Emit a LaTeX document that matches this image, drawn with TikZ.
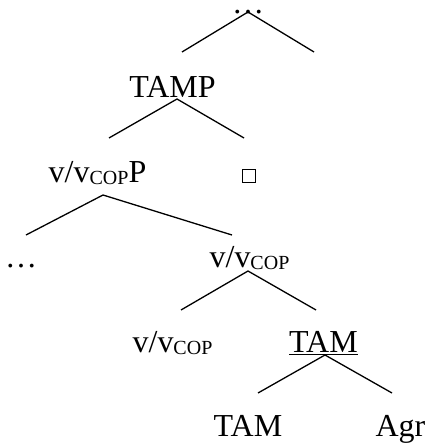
\documentclass[tikz,border=0pt]{standalone}
\usepackage{fontspec}
\setmainfont{Liberation Serif}
\newcommand\vvcop{v/v\raisebox{-1pt}{\fontsize{10}{12}\selectfont COP}}
\begin{document}
\begin{tikzpicture}[x=0.5pt,y=-0.5pt,
  lbl/.style={anchor=base,inner sep=0pt,font=\fontsize{16}{19}\selectfont},
  edge/.style={line width=0.65pt},
  box/.style={draw,line width=0.5pt,minimum size=6.5pt,inner sep=0pt}]
\useasboundingbox (0,0) rectangle (425,443);
% nodes
\node[lbl] (top) at (248,13.5) {…};
\node[lbl] (tamp) at (172.5,98) {TAMP};
\node[lbl] (vvp) at (97.5,183) {\vvcop P};
\node[box] (sq) at (248.5,175.5) {};
\node[lbl] (dots) at (21,267) {…};
\node[lbl] (vvmid) at (249.5,267) {\vvcop};
\node[lbl] (vvlow) at (172.5,352) {\vvcop};
\node[lbl] (tamu) at (323.5,352) {\underline{TAM}};
\node[lbl] (tam) at (248,436) {TAM};
\node[lbl] (agr) at (400.5,436) {Agr};
% branch points
\coordinate (a0) at (248,12);
\coordinate (l0) at (182,52);
\coordinate (r0) at (314,52);
\coordinate (a1) at (177,99);
\coordinate (l1) at (109,138);
\coordinate (r1) at (244,138);
\coordinate (a2) at (103,195);
\coordinate (l2) at (26,235);
\coordinate (r2) at (232,235);
\coordinate (a3) at (248,271);
\coordinate (l3) at (181,310);
\coordinate (r3) at (316,310);
\coordinate (a4) at (325,355);
\coordinate (l4) at (258,393);
\coordinate (r4) at (392,393);
% connectors
\draw[edge] (l0) -- (a0) -- (r0);
\draw[edge] (l1) -- (a1) -- (r1);
\draw[edge] (l2) -- (a2) -- (r2);
\draw[edge] (l3) -- (a3) -- (r3);
\draw[edge] (l4) -- (a4) -- (r4);
\end{tikzpicture}
\end{document}
